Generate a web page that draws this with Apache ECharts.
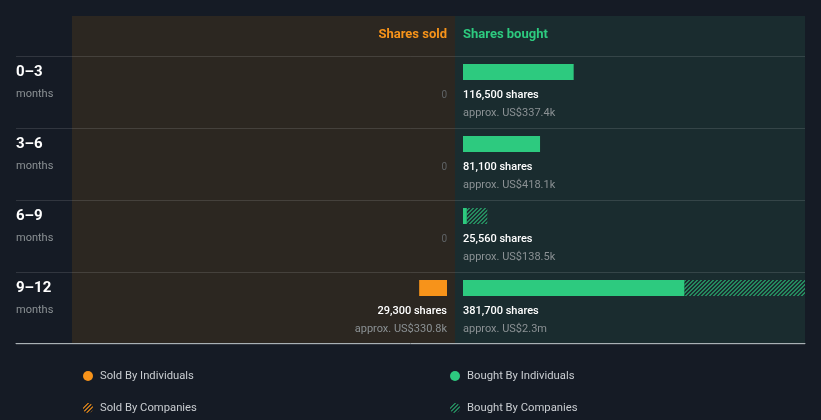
<!DOCTYPE html>
<html>
<head>
<meta charset="utf-8">
<script src="https://cdn.jsdelivr.net/npm/echarts@6/dist/echarts.min.js"></script>
<style>
html,body{margin:0;padding:0;background:#151b25;}
#c{width:821px;height:420px;}
</style>
</head>
<body>
<div id="c"></div>
<script>
const categories = ['0–3', '3–6', '6–9', '9–12'];
const periodUnit = 'months';
const soldIndividuals = [0, 0, 0, 29300];
const soldCompanies = [0, 0, 0, 0];
const boughtIndividuals = [116500, 81100, 4000, 233000];
const boughtCompanies = [0, 0, 21560, 148700];
const soldSharesText = ['0', '0', '0', '29,300'];
const soldValueText = ['', '', '', 'US$330.8k'];
const boughtSharesText = ['116,500', '81,100', '25,560', '381,700'];
const boughtValueText = ['US$337.4k', 'US$418.1k', 'US$138.5k', 'US$2.3m'];
const axisMax = 360000;

const ORANGE = '#f7931a';
const GREEN = '#2dca7f';

function makePattern(color) {
  const c = document.createElement('canvas');
  c.width = 4; c.height = 4;
  const ctx = c.getContext('2d');
  ctx.fillStyle = color;
  for (let x = 0; x < 4; x++) {
    for (let y = 0; y < 4; y++) {
      const m = (x + y) % 4;
      if (m === 0 || m === 1) ctx.fillRect(x, y, 1, 1);
    }
  }
  return { image: c, repeat: 'repeat' };
}

const rich = {
  a: { color: '#ffffff', fontSize: 11, fontWeight: 500, lineHeight: 18, fontFamily: 'Roboto' },
  b: { color: '#8b9194', fontSize: 11, lineHeight: 18, fontFamily: 'Roboto' },
  z: { color: '#5f6366', fontSize: 10, lineHeight: 18, fontFamily: 'Roboto' }
};

const legendText = { color: '#c9cdd1', fontSize: 11.25, lineHeight: 14, padding: [0, 0, 0, 2] };

const chart = echarts.init(document.getElementById('c'));
chart.setOption({
  backgroundColor: '#151b25',
  animation: false,
  textStyle: { fontFamily: 'Roboto' },
  graphic: [
    { type: 'rect', z: -10, shape: { x: 72, y: 16, width: 383, height: 327 }, style: { fill: '#2c2721' } },
    { type: 'rect', z: -10, shape: { x: 455, y: 16, width: 350, height: 327 }, style: { fill: '#1a2c2f' } },
    { type: 'text', x: 447, y: 35, style: { text: 'Shares sold', fill: ORANGE, font: 'bold 13px Roboto', align: 'right', verticalAlign: 'middle' } },
    { type: 'text', x: 463, y: 35, style: { text: 'Shares bought', fill: GREEN, font: 'bold 13px Roboto', align: 'left', verticalAlign: 'middle' } }
  ],
  legend: [
    {
      data: ['Sold By Individuals', 'Sold By Companies'],
      orient: 'vertical', left: 83, top: 369, padding: 0, itemWidth: 10, itemHeight: 10, itemGap: 18,
      icon: 'circle', selectedMode: false, textStyle: legendText
    },
    {
      data: ['Bought By Individuals', 'Bought By Companies'],
      orient: 'vertical', left: 450, top: 369, padding: 0, itemWidth: 10, itemHeight: 10, itemGap: 18,
      icon: 'circle', selectedMode: false, textStyle: legendText
    }
  ],
  grid: [
    { left: 16, right: 16, top: 56, height: 288 },
    { left: 105, right: 374, top: 36, height: 288 },
    { left: 463, right: 16, top: 36, height: 288 }
  ],
  xAxis: [
    { gridIndex: 0, type: 'value', min: 0, max: 1, offset: -1, axisLabel: { show: false }, axisTick: { show: false }, splitLine: { show: false },
      axisLine: { show: true, lineStyle: { color: '#a9b1b5', width: 1 } } },
    { gridIndex: 1, type: 'value', min: 0, max: axisMax, inverse: true, show: false, splitLine: { show: false } },
    { gridIndex: 2, type: 'value', min: 0, max: axisMax, show: false, splitLine: { show: false } }
  ],
  yAxis: [
    { gridIndex: 0, type: 'category', data: categories, inverse: true,
      axisLine: { show: false }, axisTick: { show: false },
      splitLine: { show: true, lineStyle: { color: 'rgba(255,255,255,0.12)', width: 1 } },
      axisLabel: {
        inside: true, margin: 0, align: 'left',
        formatter: v => '{a|' + v + '}\n{b|' + periodUnit + '}\n{c| }',
        rich: {
          a: { color: '#ffffff', fontSize: 15, fontWeight: 'bold', lineHeight: 22, fontFamily: 'Roboto', padding: [2, 0, 0, 0] },
          b: { color: '#8b9194', fontSize: 11, lineHeight: 22, fontFamily: 'Roboto', padding: [2, 0, 0, 0] },
          c: { fontSize: 11, lineHeight: 20 }
        }
      }
    },
    { gridIndex: 1, type: 'category', data: categories, inverse: true, show: false },
    { gridIndex: 2, type: 'category', data: categories, inverse: true, show: false }
  ],
  series: [
    {
      name: 'Sold By Individuals', type: 'bar', xAxisIndex: 1, yAxisIndex: 1, stack: 'sold',
      data: soldIndividuals, barWidth: 16, itemStyle: { color: ORANGE },
      label: {
        show: true, position: ['100%', 22], align: 'right', verticalAlign: 'top',
        formatter: p => soldSharesText[p.dataIndex] === '0'
          ? '{z|0}'
          : '{a|' + soldSharesText[p.dataIndex] + ' shares}\n{b|approx. ' + soldValueText[p.dataIndex] + '}',
        rich: rich
      }
    },
    {
      name: 'Sold By Companies', type: 'bar', xAxisIndex: 1, yAxisIndex: 1, stack: 'sold',
      data: soldCompanies, barWidth: 16, itemStyle: { color: makePattern('rgba(247,147,26,0.75)') }
    },
    {
      name: 'Bought By Individuals', type: 'bar', xAxisIndex: 2, yAxisIndex: 2, stack: 'bought',
      data: boughtIndividuals, barWidth: 16, itemStyle: { color: GREEN },
      label: {
        show: true, position: [0, 22], align: 'left', verticalAlign: 'top',
        formatter: p => '{a|' + boughtSharesText[p.dataIndex] + ' shares}\n{b|approx. ' + boughtValueText[p.dataIndex] + '}',
        rich: rich
      }
    },
    {
      name: 'Bought By Companies', type: 'bar', xAxisIndex: 2, yAxisIndex: 2, stack: 'bought',
      data: boughtCompanies, barWidth: 16, itemStyle: { color: makePattern('rgba(45,202,127,0.6)') }
    }
  ]
});
</script>
</body>
</html>
